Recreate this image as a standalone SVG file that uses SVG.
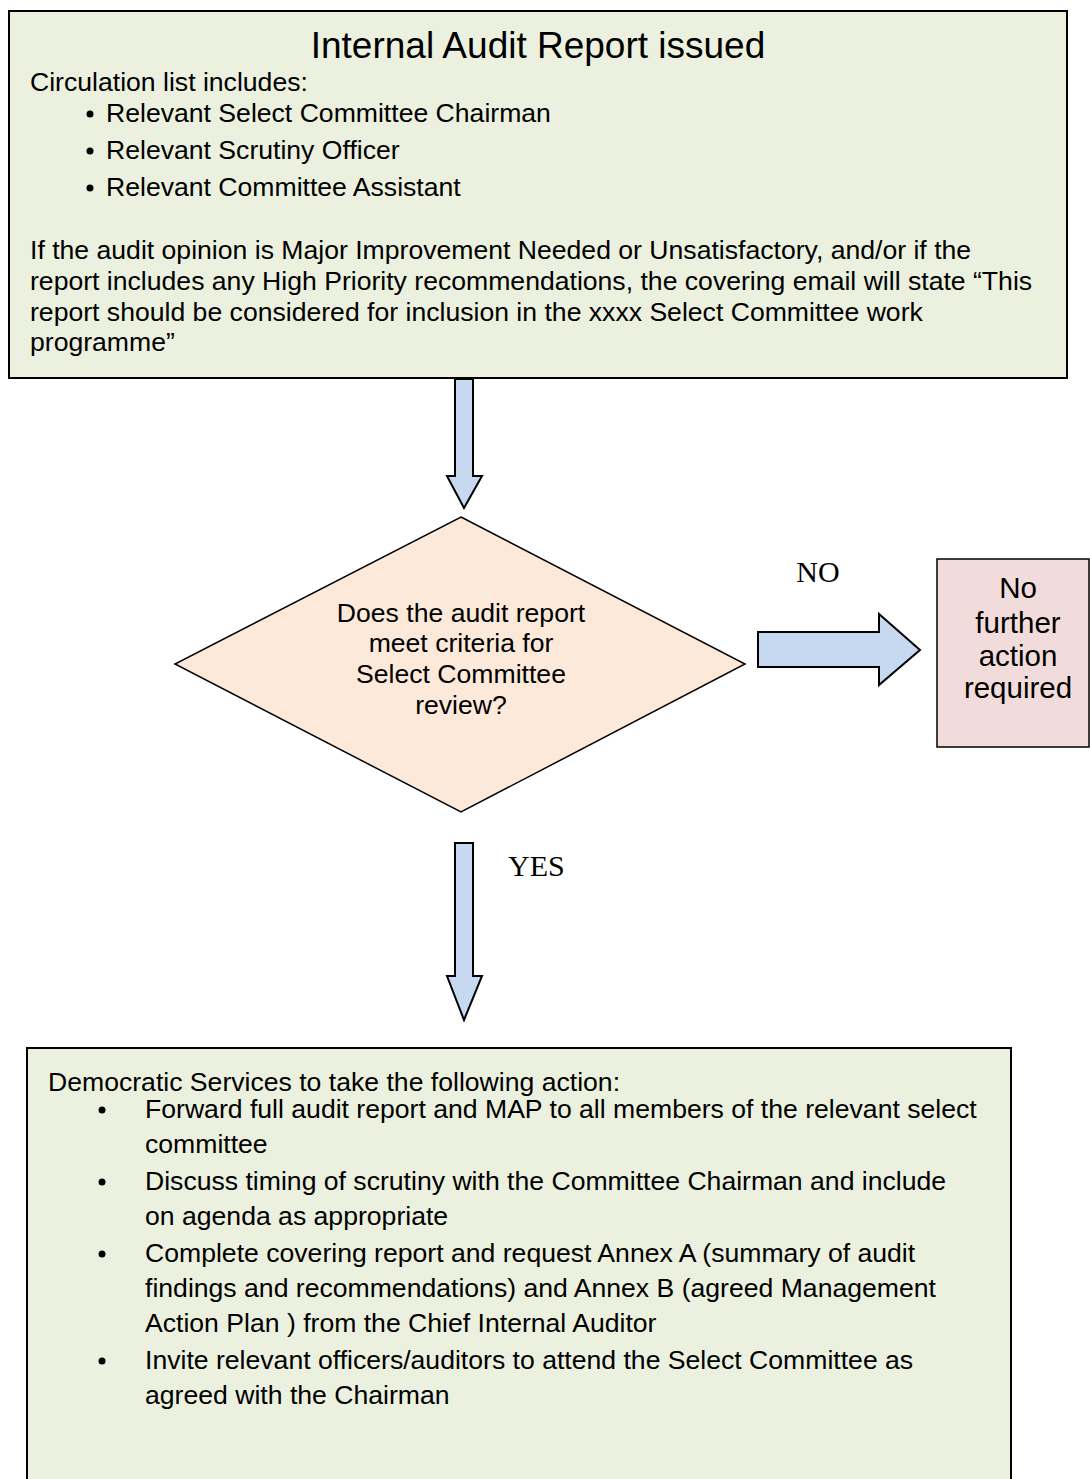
<svg xmlns="http://www.w3.org/2000/svg" width="1090" height="1479" viewBox="0 0 1090 1479">
<style>
.box{fill:#EBF1DE;stroke:#000;stroke-width:2}
.t{font-family:"Liberation Sans",Arial,sans-serif;font-size:26.6px;fill:#000}
.c{text-anchor:middle}
.lbl{font-family:"Liberation Serif","Times New Roman",serif;font-size:30px;fill:#000}
.arr{fill:#C6D9F1;stroke:#000;stroke-width:2;stroke-linejoin:miter}
</style>
<g id="start">
<rect class="box" x="9" y="11" width="1058" height="367"/>
<text class="t c" x="538" y="58" style="font-size:37px">Internal Audit Report issued</text>
<text class="t" x="30" y="91">Circulation list includes:</text>
<circle cx="90" cy="114" r="3.5"/>
<circle cx="90" cy="151" r="3.5"/>
<circle cx="90" cy="188" r="3.5"/>
<text class="t" x="106" y="122">Relevant Select Committee Chairman</text>
<text class="t" x="106" y="159">Relevant Scrutiny Officer</text>
<text class="t" x="106" y="196">Relevant Committee Assistant</text>
<text class="t" x="30" y="259">If the audit opinion is Major Improvement Needed or Unsatisfactory, and/or if the</text>
<text class="t" x="30" y="290">report includes any High Priority recommendations, the covering email will state “This</text>
<text class="t" x="30" y="321">report should be considered for inclusion in the xxxx Select Committee work</text>
<text class="t" x="30" y="351">programme”</text>
</g>
<g id="decision">
<polygon points="461,517 745,664 461,812 175,664" style="fill:#FDE9D9;stroke:#000;stroke-width:1.5"/>
<text class="t c" x="461" y="622">Does the audit report</text>
<text class="t c" x="461" y="652">meet criteria for</text>
<text class="t c" x="461" y="683">Select Committee</text>
<text class="t c" x="461" y="714">review?</text>
</g>
<g id="no-action">
<rect x="937" y="559" width="152" height="188" style="fill:#F2DCDB;stroke:#000;stroke-width:1.5"/>
<text class="t c" x="1018" y="598" style="font-size:29.5px">No</text>
<text class="t c" x="1018" y="633" style="font-size:29.5px">further</text>
<text class="t c" x="1018" y="666" style="font-size:29.5px">action</text>
<text class="t c" x="1018" y="698" style="font-size:29.5px">required</text>
</g>
<g id="actions">
<rect class="box" x="27" y="1048" width="984" height="440"/>
<text class="t" x="48" y="1091">Democratic Services to take the following action:</text>
<circle cx="102" cy="1110" r="3.5"/>
<circle cx="102" cy="1182" r="3.5"/>
<circle cx="102" cy="1254" r="3.5"/>
<circle cx="102" cy="1361" r="3.5"/>
<text class="t" x="145" y="1118">Forward full audit report and MAP to all members of the relevant select</text>
<text class="t" x="145" y="1153">committee</text>
<text class="t" x="145" y="1190">Discuss timing of scrutiny with the Committee Chairman  and include</text>
<text class="t" x="145" y="1225">on agenda as appropriate</text>
<text class="t" x="145" y="1262">Complete covering report and request Annex A (summary of audit</text>
<text class="t" x="145" y="1297">findings and recommendations) and Annex B (agreed Management</text>
<text class="t" x="145" y="1332">Action Plan ) from the Chief Internal Auditor</text>
<text class="t" x="145" y="1369">Invite relevant officers/auditors to attend the Select Committee as</text>
<text class="t" x="145" y="1404">agreed with the Chairman</text>
</g>
<g id="connectors">
<polygon class="arr" points="455,379 473,379 473,476 482,476 464,508 447,476 455,476"/>
<polygon class="arr" points="758,632 879,632 879,614 920,650 879,685 879,667 758,667"/>
<polygon class="arr" points="455,843 473,843 473,976 482,976 464,1020 447,976 455,976"/>
<text class="lbl c" x="818" y="582">NO</text>
<text class="lbl" x="508" y="876">YES</text>
</g>
</svg>
